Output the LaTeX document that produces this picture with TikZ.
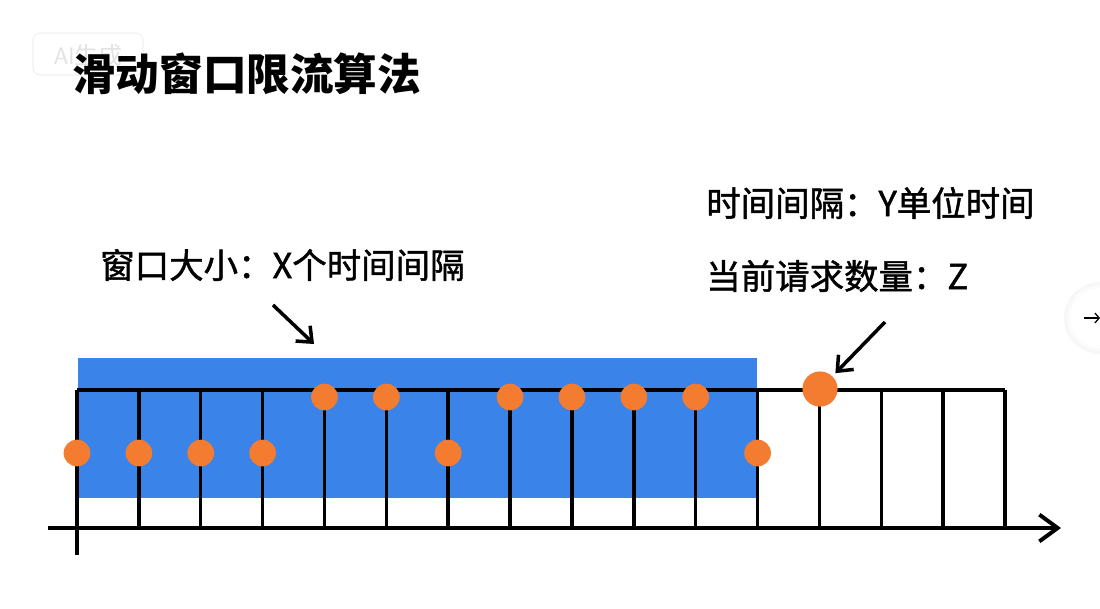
\documentclass[tikz,border=0pt]{standalone}
\usepackage{fontspec}
\newfontfamily\cjk{Noto Sans CJK SC}
\newfontfamily\cjkmed[FakeBold=1.3]{Noto Sans CJK SC}
\usetikzlibrary{arrows.meta}
\definecolor{winblue}{RGB}{58,131,233}
\definecolor{reqorange}{RGB}{244,124,48}
\tikzset{
  grid/.style={line width=2.5pt},
  axis/.style={line width=2.8pt,-{Straight Barb[length=13pt,width=19pt]}},
  pointer/.style={line width=2.5pt,-{Straight Barb[length=9pt,width=15pt]}},
  req/.style={circle,fill=reqorange,inner sep=0pt,minimum size=19pt},
  bigreq/.style={circle,fill=reqorange,inner sep=0pt,minimum size=25pt},
  label/.style={anchor=west,inner sep=0pt,font=\cjkmed\fontsize{24.5}{28}\selectfont},
}
\begin{document}
\begin{tikzpicture}[x=0.025cm,y=-0.025cm]
\fill[white] (0,0) rectangle (1100,608);
\useasboundingbox (0,0) rectangle (1100,608);
% watermark and page button
\draw[gray!12,line width=0.8pt,rounded corners=5pt] (33,33) rectangle (143,75);
\node[text=gray!22,font=\sffamily\fontsize{17}{20}\selectfont] (mark) at (88,55) {AI\cjk 生成};
\fill[gray!6] (1100,318) circle (36);
\fill[gray!3] (1100,318) circle (33);
\fill[white] (1100,318) circle (30);
\coordinate (btnl) at (1084,318);
\coordinate (btnr) at (1100,318);
\draw[line width=0.9pt,-{Straight Barb[length=3pt,width=7pt]}] (btnl) -- (btnr);
% title
\node[anchor=west,inner sep=0pt,font=\cjk\bfseries\fontsize{31}{36}\selectfont] (title) at (72,74) {滑动窗口限流算法};
% window
\fill[winblue] (78,358) rectangle (757,498);
\draw[grid] (77,390) -- (1005,390);
\foreach \i in {1,...,15}
  \draw[grid] ({77+61.87*\i},390) -- ({77+61.87*\i},528);
\draw[grid] (77,390) -- (77,555);
\coordinate (tstart) at (48,528);
\coordinate (tend) at (1061,528);
\draw[axis] (tstart) -- (tend);
% requests
\foreach \k/\h in {0/453,1/453,2/453,3/453,4/397,5/397,6/453,7/397,8/397,9/397,10/397,11/453}
  \node[req] (d\k) at ({77+61.87*\k},\h) {};
\node[bigreq] (cur) at (820,389) {};
% labels
\node[label] (winsize) at (100,265) {窗口大小：X个时间间隔};
\node[label] (interval) at (706,203) {时间间隔：Y单位时间};
\node[label] (count) at (706,276) {当前请求数量：Z};
\coordinate (p1) at (273,305);
\coordinate (p2) at (314,344);
\draw[pointer] (p1) -- (p2);
\coordinate (p3) at (885,322);
\draw[pointer,shorten >=3pt] (p3) -- (cur);
\end{tikzpicture}
\end{document}
